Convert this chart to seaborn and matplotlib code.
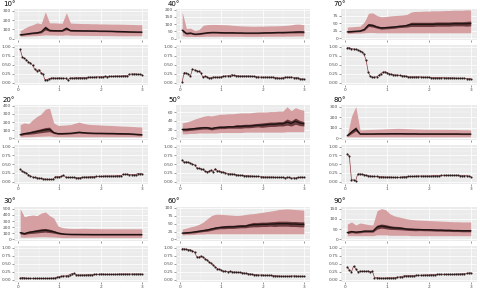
import numpy as np
import matplotlib
matplotlib.use("Agg")
import matplotlib.pyplot as plt
import seaborn as sns
from matplotlib.ticker import MultipleLocator

# x grids shared by every panel
x_top = np.linspace(0.05, 3.0, 30)
x_bot = np.linspace(0.05, 3.0, 60)

# ---- 10 deg
mean_10 = [40, 45, 52, 58, 62, 72, 115, 88, 85, 84, 84, 110, 86, 85, 84, 83, 83, 82, 82, 80, 80, 79, 78, 76, 75, 74, 72, 71, 70, 70]
band_10 = [5, 5, 6, 7, 8, 10, 22, 10, 8, 7, 7, 15, 7, 7, 6, 6, 6, 6, 6, 6, 6, 6, 6, 6, 6, 6, 6, 6, 6, 6]
hi_10 = [85, 110, 135, 150, 170, 160, 290, 170, 170, 168, 165, 280, 168, 165, 164, 162, 162, 160, 160, 158, 158, 157, 156, 156, 155, 154, 153, 152, 150, 150]
lo_10 = [25, 25, 28, 30, 32, 35, 40, 38, 38, 36, 36, 40, 36, 35, 35, 34, 34, 33, 33, 32, 32, 32, 31, 30, 30, 30, 30, 30, 30, 30]
rate_10 = [0.93, 0.72, 0.68, 0.64, 0.58, 0.55, 0.48, 0.38, 0.33, 0.36, 0.28, 0.24, 0.08, 0.08, 0.11, 0.12, 0.13, 0.12, 0.12, 0.13,
           0.12, 0.12, 0.12, 0.07, 0.12, 0.13, 0.12, 0.14, 0.13, 0.14, 0.13, 0.14, 0.14, 0.15, 0.15, 0.15, 0.15, 0.16, 0.16, 0.16,
           0.16, 0.17, 0.16, 0.17, 0.17, 0.17, 0.18, 0.18, 0.18, 0.18, 0.19, 0.19, 0.19, 0.23, 0.24, 0.24, 0.24, 0.23, 0.23, 0.22]

# ---- 20 deg
mean_20 = [45, 58, 65, 75, 85, 95, 105, 110, 70, 58, 58, 60, 62, 68, 75, 70, 66, 64, 62, 62, 61, 60, 60, 58, 57, 56, 55, 52, 48, 45]
band_20 = [10, 12, 15, 20, 22, 25, 28, 28, 10, 8, 8, 8, 8, 8, 9, 8, 8, 8, 8, 8, 8, 8, 8, 8, 8, 8, 8, 8, 8, 8]
hi_20 = [170, 190, 180, 230, 270, 300, 360, 370, 190, 160, 162, 165, 170, 185, 200, 185, 175, 170, 168, 165, 162, 160, 158, 155, 152, 150, 148, 145, 142, 140]
lo_20 = [18, 20, 20, 22, 24, 26, 28, 30, 22, 20, 20, 20, 20, 20, 20, 20, 20, 20, 20, 20, 20, 20, 20, 20, 20, 20, 20, 20, 18, 18]
rate_20 = [0.35, 0.30, 0.27, 0.24, 0.20, 0.16, 0.13, 0.12, 0.11, 0.10, 0.09, 0.08, 0.07, 0.07, 0.06, 0.06, 0.07, 0.14, 0.14, 0.14,
           0.15, 0.18, 0.13, 0.12, 0.12, 0.12, 0.12, 0.11, 0.11, 0.11, 0.12, 0.13, 0.13, 0.13, 0.14, 0.14, 0.14, 0.15, 0.15, 0.15,
           0.15, 0.16, 0.16, 0.16, 0.16, 0.16, 0.16, 0.17, 0.17, 0.17, 0.21, 0.21, 0.21, 0.20, 0.20, 0.20, 0.20, 0.23, 0.23, 0.23]

# ---- 30 deg
mean_30 = [110, 95, 115, 125, 135, 145, 150, 140, 125, 105, 92, 86, 83, 82, 82, 81, 81, 80, 80, 80, 80, 80, 80, 80, 80, 80, 80, 80, 80, 80]
band_30 = [20, 15, 20, 25, 28, 30, 30, 28, 22, 15, 10, 9, 8, 8, 8, 8, 8, 8, 8, 8, 8, 8, 8, 8, 8, 8, 8, 8, 8, 8]
hi_30 = [500, 370, 390, 400, 390, 430, 450, 390, 350, 220, 195, 185, 180, 178, 180, 182, 180, 178, 178, 176, 176, 175, 175, 175, 175, 175, 175, 175, 175, 175]
lo_30 = [40, 35, 38, 40, 42, 45, 45, 42, 40, 35, 30, 30, 30, 30, 30, 30, 30, 30, 30, 30, 30, 30, 30, 30, 30, 30, 30, 30, 30, 30]
rate_30 = [0.05, 0.07, 0.06, 0.05, 0.04, 0.04, 0.04, 0.04, 0.04, 0.04, 0.04, 0.04, 0.04, 0.04, 0.04, 0.05, 0.05, 0.06, 0.08, 0.10,
           0.11, 0.12, 0.12, 0.13, 0.16, 0.19, 0.20, 0.16, 0.15, 0.15, 0.15, 0.15, 0.15, 0.16, 0.16, 0.16, 0.17, 0.17, 0.17, 0.18,
           0.18, 0.17, 0.17, 0.17, 0.17, 0.17, 0.17, 0.17, 0.18, 0.18, 0.18, 0.18, 0.18, 0.18, 0.18, 0.18, 0.18, 0.18, 0.18, 0.18]

# ---- 40 deg
mean_40 = [58, 35, 38, 30, 32, 36, 40, 42, 42, 41, 40, 40, 40, 39, 39, 38, 38, 38, 38, 39, 40, 40, 41, 42, 42, 43, 44, 45, 46, 45]
band_40 = [10, 5, 5, 4, 4, 4, 4, 4, 4, 4, 4, 4, 4, 4, 4, 4, 4, 4, 4, 4, 4, 4, 4, 4, 5, 5, 5, 6, 6, 6]
hi_40 = [185, 70, 72, 55, 62, 92, 97, 98, 98, 97, 96, 95, 92, 90, 88, 87, 86, 85, 86, 86, 87, 88, 88, 89, 90, 92, 95, 100, 100, 96]
lo_40 = [20, 15, 15, 14, 14, 15, 16, 16, 16, 16, 16, 16, 16, 16, 16, 15, 15, 15, 15, 15, 16, 16, 16, 16, 16, 17, 17, 18, 18, 18]
rate_40 = [0.02, 0.28, 0.26, 0.24, 0.18, 0.38, 0.35, 0.33, 0.31, 0.28, 0.15, 0.18, 0.16, 0.12, 0.14, 0.15, 0.15, 0.15, 0.15, 0.16,
           0.18, 0.18, 0.19, 0.19, 0.22, 0.20, 0.19, 0.19, 0.18, 0.18, 0.18, 0.18, 0.18, 0.18, 0.17, 0.17, 0.16, 0.16, 0.15, 0.15,
           0.15, 0.15, 0.15, 0.15, 0.15, 0.14, 0.14, 0.12, 0.12, 0.14, 0.15, 0.15, 0.15, 0.15, 0.14, 0.14, 0.14, 0.10, 0.10, 0.10]

# ---- 50 deg
mean_50 = [20, 20, 21, 22, 23, 24, 24, 22, 24, 25, 25, 26, 26, 27, 27, 28, 28, 29, 30, 30, 31, 32, 32, 33, 33, 37, 34, 39, 35, 33]
band_50 = [3, 3, 3, 3, 3, 3, 3, 3, 3, 3, 3, 3, 3, 4, 4, 4, 4, 4, 4, 5, 5, 5, 5, 5, 5, 7, 6, 7, 6, 5]
hi_50 = [35, 37, 40, 44, 47, 50, 52, 51, 53, 55, 55, 56, 56, 57, 58, 58, 58, 59, 60, 60, 60, 61, 61, 62, 62, 72, 63, 70, 66, 64]
lo_50 = [10, 10, 11, 11, 12, 12, 12, 12, 12, 13, 13, 13, 13, 13, 13, 14, 14, 14, 14, 14, 14, 14, 14, 14, 14, 15, 15, 15, 15, 15]
rate_50 = [0.62, 0.55, 0.57, 0.55, 0.53, 0.50, 0.48, 0.40, 0.38, 0.37, 0.35, 0.30, 0.28, 0.30, 0.33, 0.28, 0.37, 0.31, 0.30, 0.28,
           0.27, 0.25, 0.23, 0.22, 0.22, 0.21, 0.20, 0.19, 0.18, 0.18, 0.17, 0.17, 0.17, 0.16, 0.16, 0.15, 0.15, 0.15, 0.14, 0.14,
           0.13, 0.13, 0.13, 0.13, 0.13, 0.12, 0.12, 0.12, 0.12, 0.12, 0.10, 0.12, 0.12, 0.09, 0.11, 0.10, 0.12, 0.12, 0.13, 0.12]

# ---- 60 deg
mean_60 = [20, 21, 22, 24, 26, 28, 30, 33, 36, 38, 39, 40, 40, 41, 42, 42, 45, 47, 47, 48, 48, 49, 49, 50, 50, 50, 49, 49, 48, 48]
band_60 = [2, 2, 2, 3, 3, 3, 4, 4, 4, 4, 5, 5, 5, 5, 5, 5, 6, 7, 7, 7, 7, 7, 8, 8, 8, 8, 8, 8, 8, 8]
hi_60 = [33, 36, 40, 43, 48, 55, 66, 76, 80, 80, 79, 78, 77, 76, 77, 79, 81, 82, 84, 86, 88, 90, 92, 95, 96, 97, 96, 95, 94, 93]
lo_60 = [14, 15, 15, 16, 17, 17, 18, 18, 18, 18, 18, 18, 18, 18, 18, 18, 18, 18, 18, 18, 18, 18, 18, 18, 18, 18, 18, 18, 18, 18]
rate_60 = [0.97, 0.96, 0.95, 0.94, 0.93, 0.90, 0.86, 0.72, 0.70, 0.74, 0.71, 0.66, 0.62, 0.56, 0.51, 0.46, 0.40, 0.35, 0.32, 0.30,
           0.26, 0.27, 0.25, 0.26, 0.25, 0.24, 0.24, 0.23, 0.23, 0.22, 0.21, 0.20, 0.19, 0.18, 0.17, 0.16, 0.16, 0.15, 0.15, 0.15,
           0.14, 0.14, 0.14, 0.14, 0.13, 0.13, 0.12, 0.12, 0.11, 0.11, 0.11, 0.11, 0.11, 0.12, 0.12, 0.12, 0.11, 0.11, 0.11, 0.11]

# ---- 70 deg
mean_70 = [22, 23, 24, 25, 30, 45, 43, 38, 35, 36, 37, 38, 40, 41, 43, 47, 47, 47, 47, 47, 47, 48, 48, 48, 48, 49, 49, 49, 49, 50]
band_70 = [2, 2, 2, 2, 3, 5, 5, 4, 4, 4, 4, 4, 4, 4, 5, 7, 7, 7, 7, 7, 7, 7, 7, 7, 7, 7, 7, 7, 8, 8]
hi_70 = [38, 39, 40, 41, 55, 84, 85, 76, 72, 73, 75, 76, 77, 78, 80, 88, 90, 90, 91, 91, 92, 92, 92, 93, 93, 94, 94, 94, 95, 95]
lo_70 = [16, 17, 18, 18, 19, 20, 20, 19, 19, 19, 19, 19, 19, 19, 19, 19, 19, 19, 19, 19, 19, 19, 19, 19, 19, 19, 19, 19, 19, 19]
rate_70 = [0.98, 0.97, 0.95, 0.94, 0.93, 0.91, 0.89, 0.86, 0.80, 0.62, 0.30, 0.17, 0.15, 0.15, 0.16, 0.20, 0.25, 0.29, 0.30, 0.28,
           0.25, 0.23, 0.22, 0.21, 0.21, 0.20, 0.19, 0.19, 0.18, 0.16, 0.16, 0.16, 0.16, 0.16, 0.16, 0.16, 0.15, 0.15, 0.15, 0.15,
           0.14, 0.14, 0.14, 0.14, 0.14, 0.14, 0.14, 0.13, 0.13, 0.13, 0.13, 0.13, 0.12, 0.12, 0.12, 0.12, 0.12, 0.11, 0.11, 0.11]

# ---- 80 deg
mean_80 = [25, 60, 90, 42, 42, 42, 42, 43, 43, 43, 44, 44, 44, 44, 43, 43, 43, 42, 42, 42, 42, 42, 42, 42, 42, 42, 42, 41, 41, 41]
band_80 = [5, 15, 20, 5, 5, 5, 5, 5, 5, 5, 5, 5, 5, 5, 5, 5, 5, 5, 5, 5, 5, 5, 5, 5, 5, 5, 5, 5, 5, 5]
hi_80 = [30, 210, 300, 80, 82, 84, 85, 86, 88, 90, 92, 94, 95, 94, 92, 90, 88, 87, 86, 86, 85, 85, 85, 85, 84, 84, 83, 82, 82, 80]
lo_80 = [15, 15, 15, 15, 15, 15, 15, 15, 15, 15, 15, 15, 15, 15, 15, 15, 15, 15, 15, 15, 15, 15, 15, 15, 15, 15, 15, 15, 15, 15]
rate_80 = [0.80, 0.73, 0.05, 0.05, 0.02, 0.22, 0.22, 0.21, 0.20, 0.18, 0.17, 0.16, 0.15, 0.15, 0.15, 0.14, 0.14, 0.14, 0.13, 0.13,
           0.13, 0.13, 0.12, 0.12, 0.12, 0.12, 0.13, 0.14, 0.14, 0.15, 0.15, 0.15, 0.15, 0.16, 0.16, 0.16, 0.16, 0.16, 0.16, 0.16,
           0.16, 0.17, 0.17, 0.17, 0.17, 0.18, 0.18, 0.18, 0.18, 0.18, 0.18, 0.18, 0.18, 0.18, 0.17, 0.17, 0.17, 0.17, 0.16, 0.14]

# ---- 90 deg
mean_90 = [33, 38, 35, 37, 40, 40, 40, 60, 65, 62, 58, 56, 55, 53, 50, 49, 48, 48, 47, 47, 46, 45, 45, 44, 44, 43, 43, 42, 42, 42]
band_90 = [5, 5, 5, 5, 5, 5, 5, 10, 10, 10, 9, 8, 8, 7, 6, 6, 6, 5, 5, 5, 5, 5, 5, 5, 5, 5, 5, 5, 5, 5]
hi_90 = [75, 85, 70, 80, 76, 72, 70, 140, 150, 145, 125, 115, 110, 105, 100, 97, 95, 94, 93, 92, 91, 90, 89, 88, 87, 86, 86, 85, 85, 85]
lo_90 = [18, 18, 18, 18, 18, 18, 18, 22, 22, 22, 20, 20, 20, 20, 20, 18, 18, 18, 18, 18, 18, 18, 18, 18, 18, 18, 18, 18, 18, 18]
rate_90 = [0.40, 0.30, 0.25, 0.42, 0.35, 0.25, 0.27, 0.26, 0.27, 0.26, 0.27, 0.25, 0.27, 0.07, 0.07, 0.06, 0.05, 0.05, 0.05, 0.06,
           0.06, 0.06, 0.06, 0.07, 0.08, 0.09, 0.10, 0.12, 0.13, 0.13, 0.13, 0.13, 0.13, 0.14, 0.14, 0.14, 0.14, 0.15, 0.15, 0.15,
           0.16, 0.16, 0.16, 0.17, 0.17, 0.17, 0.17, 0.17, 0.17, 0.17, 0.17, 0.17, 0.18, 0.18, 0.18, 0.19, 0.19, 0.20, 0.21, 0.22]

titles = ["10°", "20°", "30°", "40°", "50°", "60°", "70°", "80°", "90°"]
panels = [
    (mean_10, band_10, hi_10, lo_10, rate_10),
    (mean_20, band_20, hi_20, lo_20, rate_20),
    (mean_30, band_30, hi_30, lo_30, rate_30),
    (mean_40, band_40, hi_40, lo_40, rate_40),
    (mean_50, band_50, hi_50, lo_50, rate_50),
    (mean_60, band_60, hi_60, lo_60, rate_60),
    (mean_70, band_70, hi_70, lo_70, rate_70),
    (mean_80, band_80, hi_80, lo_80, rate_80),
    (mean_90, band_90, hi_90, lo_90, rate_90),
]
top_ylim = [(-16, 320), (-20, 410), (-25, 530), (-10, 205), (-4, 76), (-5, 103), (-5, 98), (-15, 315), (-8, 158)]
top_step = [100, 100, 100, 50, 20, 25, 25, 100, 50]

sns.set_theme(style="darkgrid", rc={
    "axes.facecolor": "#EBEBEB",
    "grid.color": "white",
    "grid.linewidth": 0.5,
    "xtick.color": "#4d4d4d",
    "ytick.color": "#4d4d4d",
    "xtick.labelsize": 3.2,
    "ytick.labelsize": 3.2,
    "xtick.major.size": 1.5,
    "ytick.major.size": 1.5,
    "xtick.major.width": 0.4,
    "ytick.major.width": 0.4,
    "xtick.major.pad": 0.8,
    "ytick.major.pad": 0.6,
    "xtick.bottom": True,
    "ytick.left": True,
})
plt.rcParams["font.family"] = ["DejaVu Sans"]

W, H = 480, 291
fig = plt.figure(figsize=(4.8, 2.91), dpi=100)

col_x = [(14, 148), (176, 310), (341, 477)]
row_y = [((9, 40), (45, 85)), ((105, 140), (145, 184)), ((207, 241), (246, 282))]
title_y = [3.5, 100, 201]
title_x = [3, 168, 333]


def box(x0, x1, y0, y1):
    return [x0 / W, 1 - y1 / H, (x1 - x0) / W, (y1 - y0) / H]


def style_axis(ax):
    ax.set_xlim(-0.1, 3.15)
    ax.xaxis.set_major_locator(MultipleLocator(1))
    ax.xaxis.set_minor_locator(MultipleLocator(0.5))
    ax.grid(which="minor", color="white", lw=0.25)
    ax.grid(which="major", color="white", lw=0.55)
    ax.tick_params(which="minor", length=0)
    ax.set_xlabel("")
    ax.set_ylabel("")
    for s in ax.spines.values():
        s.set_visible(False)


for i, (mean, band, hi, lo, rate) in enumerate(panels):
    c, r = i // 3, i % 3
    (x0, x1) = col_x[c]
    (t0, t1), (b0, b1) = row_y[r]

    mean = np.array(mean, dtype=float)
    band = np.array(band, dtype=float)

    # top: spread ribbon, inner band and mean line
    ax_t = fig.add_axes(box(x0, x1, t0, t1))
    ax_t.fill_between(x_top, lo, hi, color="#d6a0a3", lw=0)
    ax_t.fill_between(x_top, mean - band, mean + band, color="#6a3a3d", lw=0)
    sns.lineplot(x=x_top, y=mean, ax=ax_t, color="#1e1414", lw=1.0)
    style_axis(ax_t)
    ax_t.set_ylim(*top_ylim[i])
    ax_t.yaxis.set_major_locator(MultipleLocator(top_step[i]))
    ax_t.yaxis.set_minor_locator(MultipleLocator(top_step[i] / 2))
    ax_t.set_xticklabels([])

    # bottom: rate points joined by a line
    ax_b = fig.add_axes(box(x0, x1, b0, b1))
    sns.lineplot(x=x_bot, y=rate, ax=ax_b, color="#8a3a40", lw=0.5,
                 marker="o", markersize=1.5, markerfacecolor="#2a1c1c",
                 markeredgecolor="#2a1c1c", markeredgewidth=0)
    style_axis(ax_b)
    ax_b.set_ylim(-0.07, 1.05)
    ax_b.yaxis.set_minor_locator(MultipleLocator(0.125))
    ax_b.set_yticks([0, 0.25, 0.5, 0.75, 1.0])
    ax_b.set_yticklabels(["0.00", "0.25", "0.50", "0.75", "1.00"])
    ax_b.set_xticks([0, 1, 2, 3])
    ax_b.set_xticklabels(["0", "1", "2", "3"])

    fig.text(title_x[c] / W, 1 - title_y[r] / H, titles[i], fontsize=5.0,
             ha="left", va="center", color="black")

fig.savefig("out.png", dpi=100)
